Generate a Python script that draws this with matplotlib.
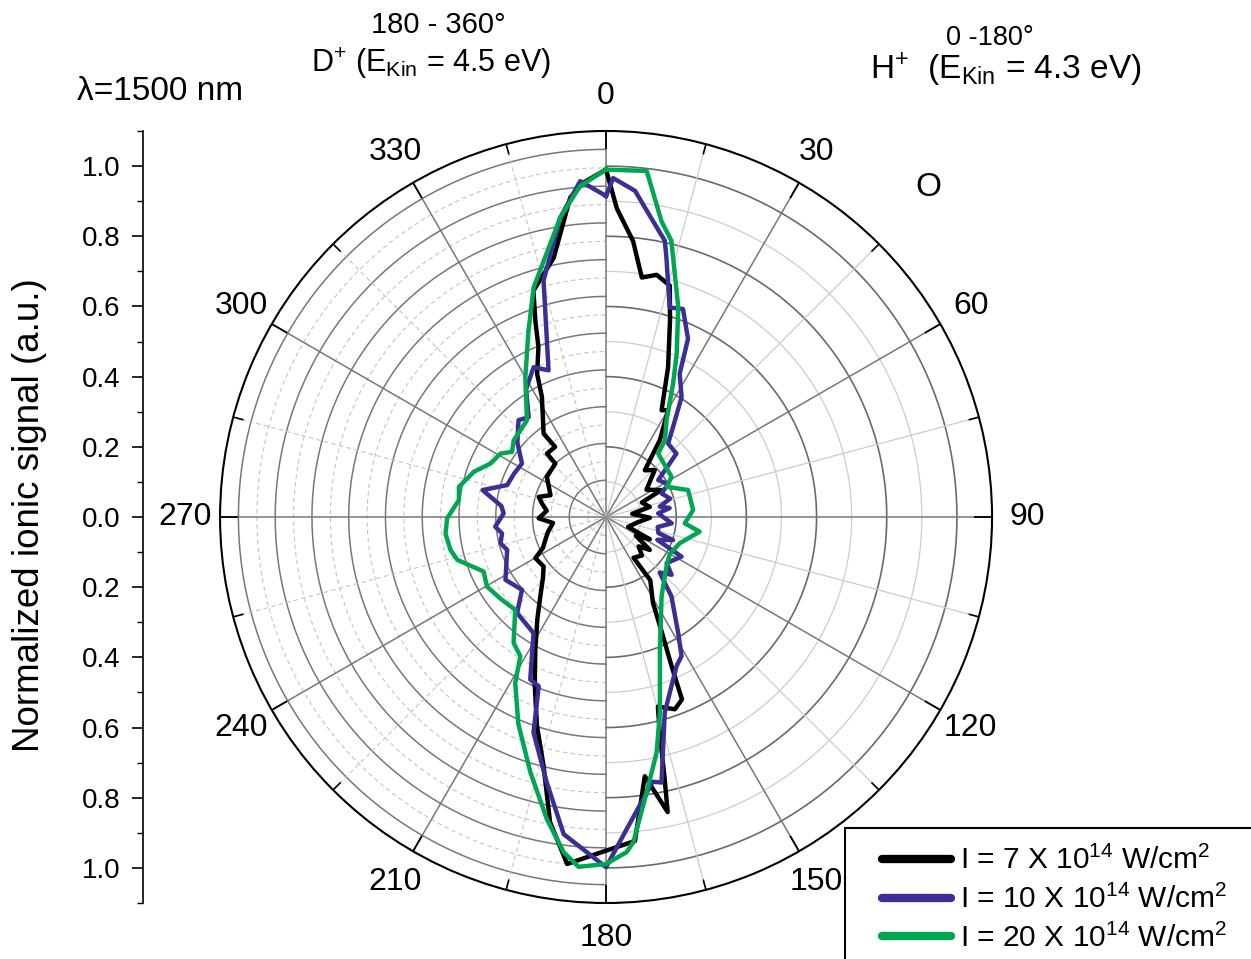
import numpy as np
import matplotlib
matplotlib.use("Agg")
import matplotlib.pyplot as plt
from matplotlib.lines import Line2D
from matplotlib.patches import Rectangle
from matplotlib.ticker import MultipleLocator

plt.rcParams['font.family'] = ['Liberation Sans', 'DejaVu Sans']
plt.rcParams['mathtext.fontset'] = 'custom'
plt.rcParams['mathtext.rm'] = 'Liberation Sans'
plt.rcParams['mathtext.it'] = 'Liberation Sans:italic'
plt.rcParams['mathtext.default'] = 'regular'

# angle in degrees (clockwise from top) and normalized ionic signal
theta_7 = [0, 2, 5.6, 8.5, 11.8, 15.4, 18, 22.5, 27.5, 30.2, 35, 39.7, 46, 56, 64, 68,
           77, 83, 91, 100, 114, 117, 122, 127, 132, 137, 146, 145, 151.3, 154.2,
           156.3, 157.4, 160.3, 164.7, 166, 167.4, 168.2, 171.5, 174.9, 180.2,
           186.4, 190.4, 194.1, 198.3, 203, 208.1, 214, 219.6, 226, 231.6, 239.8,
           244, 249.3, 256, 263.5, 268.9, 276, 282, 286.7, 291.4, 304.2, 316.5,
           317, 324, 323.2, 331.9, 334.3, 338.3, 340.2, 342.2, 348.6, 353.6, 356.1, 360]
r_7 = [0.99, 0.88, 0.79, 0.69, 0.705, 0.684, 0.59, 0.462, 0.343, 0.352, 0.267, 0.173,
       0.193, 0.139, 0.175, 0.11, 0.128, 0.075, 0.125, 0.09, 0.069, 0.14, 0.1, 0.156,
       0.125, 0.15, 0.14, 0.22, 0.278, 0.366, 0.466, 0.563, 0.582, 0.56, 0.632, 0.766,
       0.859, 0.747, 0.927, 0.952, 0.995, 0.884, 0.731, 0.627, 0.52, 0.428, 0.35,
       0.294, 0.25, 0.227, 0.233, 0.2, 0.185, 0.17, 0.152, 0.192, 0.17, 0.187, 0.2,
       0.17, 0.204, 0.21, 0.247, 0.247, 0.297, 0.388, 0.453, 0.521, 0.595, 0.677,
       0.754, 0.916, 0.955, 0.99]

theta_10 = [0, 1.2, 5.1, 7.6, 12, 13.1, 16.9, 20.3, 24.7, 27.2, 32.2, 36, 40.2, 48,
            54.7, 62, 67, 74, 79, 82, 86, 95.5, 101, 107, 109, 114, 117.7, 127.3,
            131.4, 136, 140.5, 148.1, 151.5, 154.7, 163.3, 168.2, 170, 176.2, 180,
            187.6, 192.6, 198.6, 201.7, 205, 212, 222.8, 229.1, 238, 251.6, 256, 261,
            265, 272, 276, 282.3, 287.9, 295, 302.5, 310, 317.9, 322.2, 328, 334.2,
            338.6, 345.2, 351.3, 355.6, 360]
r_10 = [0.915, 0.966, 0.933, 0.88, 0.805, 0.759, 0.624, 0.632, 0.559, 0.459, 0.404,
        0.33, 0.274, 0.27, 0.182, 0.2, 0.172, 0.19, 0.156, 0.183, 0.149, 0.188, 0.15,
        0.156, 0.202, 0.16, 0.243, 0.217, 0.249, 0.22, 0.293, 0.389, 0.451, 0.47,
        0.582, 0.773, 0.766, 0.891, 0.998, 0.912, 0.775, 0.648, 0.519, 0.511, 0.39,
        0.373, 0.317, 0.338, 0.297, 0.31, 0.3, 0.317, 0.292, 0.3, 0.36, 0.296, 0.29,
        0.284, 0.33, 0.372, 0.36, 0.43, 0.474, 0.449, 0.697, 0.863, 0.96, 0.915]

theta_20 = [0, 6.7, 10.6, 13.3, 19, 23.4, 26.7, 32, 37.5, 39.4, 58.5, 63.5, 71.8,
            85.4, 94.6, 98.9, 109.6, 120, 128, 135.3, 145, 157.9, 164.6, 167.9,
            171.6, 175.2, 176.5, 180, 184.5, 187.2, 191.1, 196.5, 203, 208.7, 211.6,
            216.3, 224.4, 232, 239.7, 246, 253.9, 258, 264, 269.5, 276.6, 281.6,
            288.9, 294.8, 301, 304.7, 309.7, 320.7, 330, 337.4, 342.5, 351.3, 355.5, 360]
r_20 = [0.99, 0.993, 0.858, 0.809, 0.632, 0.507, 0.425, 0.325, 0.276, 0.234, 0.219,
        0.193, 0.246, 0.249, 0.225, 0.27, 0.223, 0.21, 0.22, 0.238, 0.276, 0.408,
        0.578, 0.687, 0.793, 0.93, 0.957, 0.989, 1.0, 0.963, 0.877, 0.759, 0.64,
        0.539, 0.466, 0.445, 0.37, 0.38, 0.393, 0.382, 0.441, 0.453, 0.46, 0.453,
        0.422, 0.428, 0.398, 0.363, 0.351, 0.326, 0.342, 0.356, 0.46, 0.575, 0.686,
        0.863, 0.946, 0.99]

series = [(theta_7, r_7), (theta_10, r_10), (theta_20, r_20)]
labels = [r'I = 7 X 10$^{14}$ W/cm$^{2}$',
          r'I = 10 X 10$^{14}$ W/cm$^{2}$',
          r'I = 20 X 10$^{14}$ W/cm$^{2}$']
colors = ['black', '#3b2f96', '#00a651']

angle_ticks = list(range(0, 360, 30))
signal_ticks = [-1.0, -0.8, -0.6, -0.4, -0.2, 0.0, 0.2, 0.4, 0.6, 0.8, 1.0]

RMAX = 1.1
RMAX_LEFT = 1.05  # left half of the grid has its own radial scale

fig = plt.figure(figsize=(12.51, 9.59), dpi=100)
ax = fig.add_axes([0.1759, 0.0584, 0.6171, 0.805], projection='polar')
ax.set_theta_zero_location('N')
ax.set_theta_direction(-1)
ax.set_ylim(0, RMAX)
ax.grid(False)
ax.set_xticks([])
ax.set_yticks([])
ax.spines['polar'].set_linewidth(1.5)

# grid circles
arc_r = np.radians(np.linspace(0, 180, 181))
arc_l = np.radians(np.linspace(180, 360, 181))
for k in range(1, 11):
    if k % 2 == 0:
        ax.plot(arc_r, np.full(181, k * 0.1), color='#6a6a6a', lw=1.2, zorder=1)
    else:
        ax.plot(arc_r, np.full(181, k * 0.1), color='#cccccc', lw=0.9, zorder=1)
    ax.plot(arc_l, np.full(181, k * 0.1 * RMAX / RMAX_LEFT), color='#777777', lw=1.1, zorder=1)
    ax.plot(arc_l, np.full(181, (k - 0.5) * 0.1 * RMAX / RMAX_LEFT), color='#c4c4c4',
            lw=0.8, ls=(0, (4, 3)), zorder=1)

# spokes and rim ticks
for a in range(0, 360, 15):
    t = np.radians(a)
    if a % 30 == 0:
        ax.plot([t, t], [0, RMAX], color='#777777', lw=1.1, zorder=1)
        ax.plot([t, t], [RMAX - 0.048, RMAX], color='black', lw=1.3, zorder=2)
    else:
        if a < 180:
            ax.plot([t, t], [0, RMAX], color='#cccccc', lw=0.9, zorder=1)
        else:
            ax.plot([t, t], [0, RMAX], color='#c4c4c4', lw=0.8, ls=(0, (4, 3)), zorder=1)
        ax.plot([t, t], [RMAX - 0.028, RMAX], color='black', lw=1.2, zorder=2)

for (th, rr), c in zip(series, colors):
    ax.plot(np.radians(th), rr, color=c, lw=3.2, zorder=3)

for a in angle_ticks:
    ax.text(np.radians(a), 1.2, str(a), ha='center', va='center', fontsize=23,
            clip_on=False)

# left signal axis
axl = fig.add_axes([143 / 1251, 0.0584, 0.0005, 0.805])
axl.set_ylim(-RMAX, RMAX)
axl.patch.set_visible(False)
for s in ['top', 'right', 'bottom']:
    axl.spines[s].set_visible(False)
axl.spines['left'].set_linewidth(1.2)
axl.set_xticks([])
axl.set_yticks(signal_ticks)
axl.set_yticklabels(['%.1f' % abs(v) for v in signal_ticks])
axl.yaxis.set_minor_locator(MultipleLocator(0.1))
axl.tick_params(axis='y', which='major', length=8, width=1.2, labelsize=20, pad=8)
axl.tick_params(axis='y', which='minor', length=4, width=1.0)

fig.text(30 / 1251, 1 - 515 / 959, 'Normalized ionic signal (a.u.)', rotation=90,
         ha='center', va='center', fontsize=26.5)

fig.text(160 / 1251, 1 - 92 / 959, 'λ=1500 nm', ha='center', va='center', fontsize=24)
fig.text(438 / 1251, 1 - 25 / 959, '180 - 360°', ha='center', va='center', fontsize=21)
fig.text(431 / 1251, 1 - 63 / 959, r'D$^{+}$ (E$_{Kin}$ = 4.5 eV)', ha='center',
         va='center', fontsize=22)
fig.text(990 / 1251, 1 - 38 / 959, '0 -180°', ha='center', va='center', fontsize=19.5)
fig.text(1006 / 1251, 1 - 70 / 959, r'H$^{+}$  (E$_{Kin}$ = 4.3 eV)', ha='center',
         va='center', fontsize=24)
fig.text(928 / 1251, 1 - 188 / 959, 'O', ha='center', va='center', fontsize=24)

# legend box runs off the page edge, as in the original
fig.patches.append(Rectangle((845 / 1251, -0.02), 0.5, (959 - 828) / 959 + 0.02,
                             transform=fig.transFigure, fill=False, ec='black',
                             lw=1.5, zorder=5))
handles = [Line2D([], [], color=c, lw=6, solid_capstyle='round') for c in colors]
leg = fig.legend(handles, labels, loc='upper left',
                 bbox_to_anchor=(882 / 1251, 1 - 846 / 959), fontsize=21.5,
                 frameon=False, handlelength=2.3, borderpad=0, labelspacing=0.32,
                 handletextpad=0.3, borderaxespad=0)

fig.savefig('out.png', dpi=100)
